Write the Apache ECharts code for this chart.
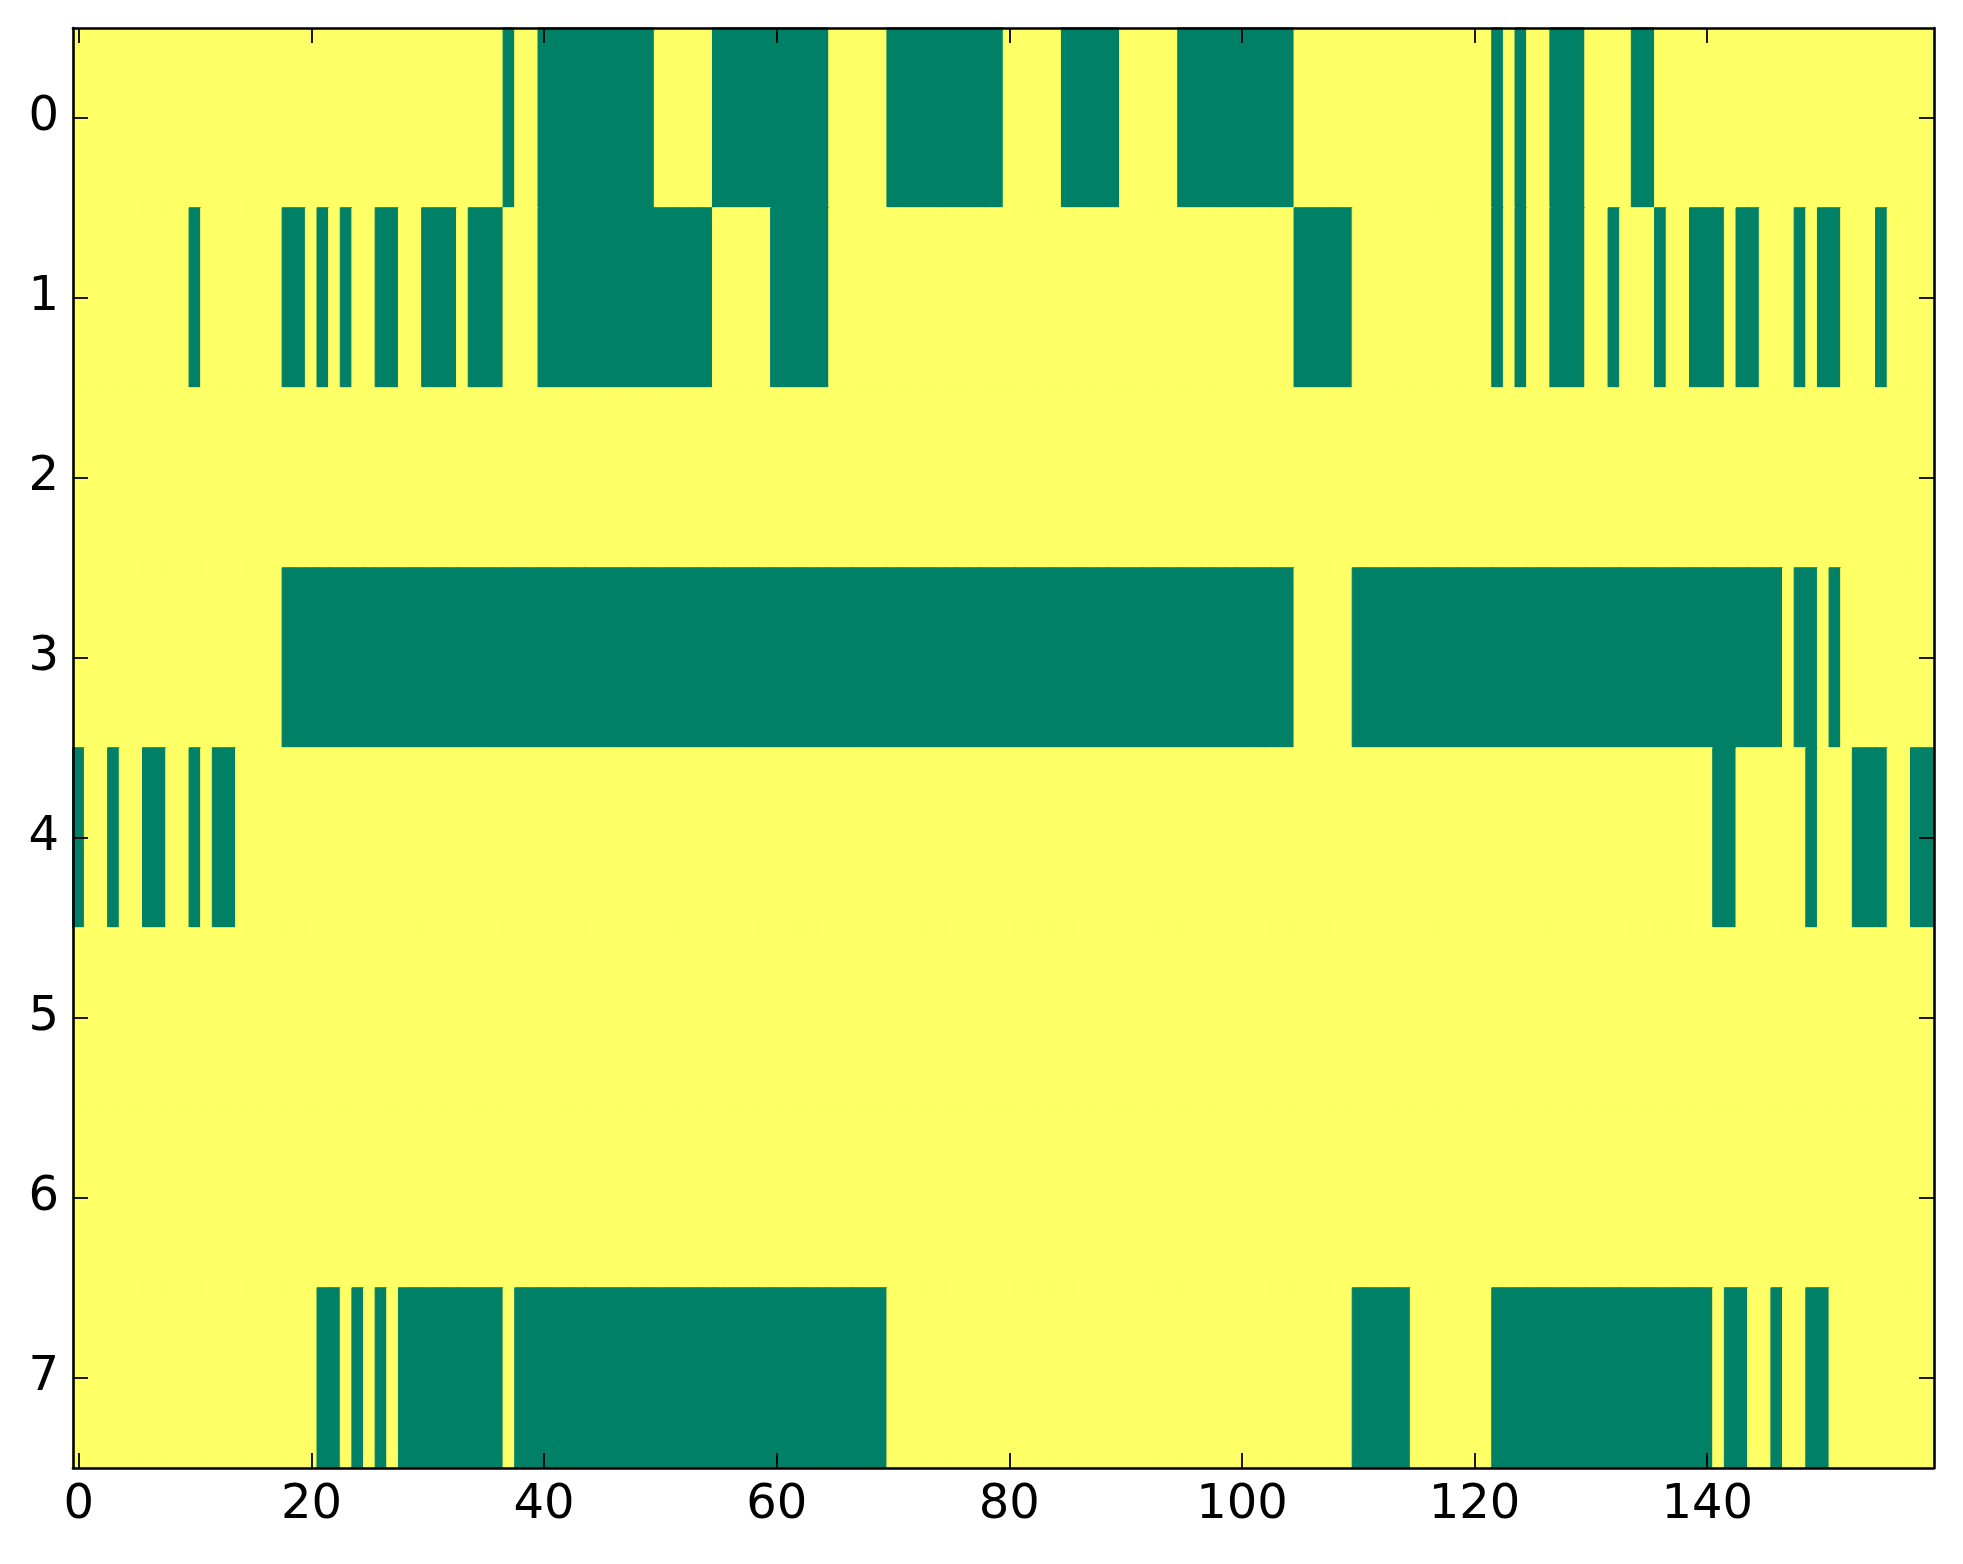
<!DOCTYPE html>
<html><head><meta charset="utf-8">
<script src="https://cdn.jsdelivr.net/npm/echarts@6/dist/echarts.min.js"></script>
<style>html,body{margin:0;padding:0;background:#fff}#c{width:1963px;height:1564px}</style>
</head><body><div id="c"></div>
<script>
// Column categories (0..159) and row categories (0..7)
const columns = Array.from({length: 160}, (_, i) => String(i));
const rowLabels = ['0', '1', '2', '3', '4', '5', '6', '7'];
const xTickLabels = ['0', '20', '40', '60', '80', '100', '120', '140'];

// Cell values, 10 columns per group ('1' = yellow, '0' = green)
const row0 = ['1111111111','1111111111','1111111111','1111111011','0000000000','1111100000','0000011111','0000000000',
              '1111100000','1111100000','0000011111','1111111111','1101011000','1111001111','1111111111','1111111111'];
const row1 = ['1111111111','0111111100','1010110011','0001000111','0000000000','0000011111','0000011111','1111111111',
              '1111111111','1111111111','1111100000','1111111111','1101011000','1101110110','0010011101','0011101111'];
const row2 = ['1111111111','1111111111','1111111111','1111111111','1111111111','1111111111','1111111111','1111111111',
              '1111111111','1111111111','1111111111','1111111111','1111111111','1111111111','1111111111','1111111111'];
const row3 = ['1111111111','1111111100','0000000000','0000000000','0000000000','0000000000','0000000000','0000000000',
              '0000000000','0000000000','0000011111','0000000000','0000000000','0000000000','0000000100','1011111111'];
const row4 = ['0110110011','0100111111','1111111111','1111111111','1111111111','1111111111','1111111111','1111111111',
              '1111111111','1111111111','1111111111','1111111111','1111111111','1111111111','1001111110','1110001100'];
const row5 = ['1111111111','1111111111','1111111111','1111111111','1111111111','1111111111','1111111111','1111111111',
              '1111111111','1111111111','1111111111','1111111111','1111111111','1111111111','1111111111','1111111111'];
const row6 = ['1111111111','1111111111','1111111111','1111111111','1111111111','1111111111','1111111111','1111111111',
              '1111111111','1111111111','1111111111','1111111111','1111111111','1111111111','1111111111','1111111111'];
const row7 = ['1111111111','1111111111','1001010100','0000000100','0000000000','0000000000','0000000000','1111111111',
              '1111111111','1111111111','1111111111','0000011111','1100000000','0000000000','0100110110','0111111111'];

const rows = [row0, row1, row2, row3, row4, row5, row6, row7];

const GREEN = '#008066';
const YELLOW = '#ffff66';

const heatData = [];
rows.forEach((groups, r) => {
  const s = groups.join('');
  for (let c = 0; c < s.length; c++) {
    const v = Number(s[c]);
    const col = v ? YELLOW : GREEN;
    heatData.push({value: [c, r, v], itemStyle: {color: col, borderColor: col, borderWidth: 1}});
  }
});

const isXTick = (idx) => xTickLabels.indexOf(String(idx)) >= 0;
const FONT = 'DejaVu Sans';
const FS = 48;
const lineStyle = {color: '#000', width: 2.6};
const tickStyle = {color: '#000', width: 1.8};

const chart = echarts.init(document.getElementById('c'));
chart.setOption({
  animation: false,
  backgroundColor: '#fff',
  grid: {left: 73, top: 28, width: 1861, height: 1440, containLabel: false},
  xAxis: [
    {type: 'category', data: columns, position: 'bottom', boundaryGap: true, z: 10,
     axisLine: {show: true, lineStyle},
     axisTick: {show: true, inside: true, length: 15, alignWithLabel: true, interval: (i) => isXTick(i), lineStyle: tickStyle},
     axisLabel: {show: true, interval: (i) => isXTick(i), margin: 14, color: '#000',
                 fontFamily: FONT, fontSize: FS},
     splitLine: {show: false}},
    {type: 'category', data: columns, position: 'top', boundaryGap: true, z: 10,
     axisLine: {show: true, lineStyle},
     axisTick: {show: true, inside: true, length: 15, alignWithLabel: true, interval: (i) => isXTick(i), lineStyle: tickStyle},
     axisLabel: {show: false}, splitLine: {show: false}}
  ],
  yAxis: [
    {type: 'category', data: rowLabels, inverse: true, position: 'left', boundaryGap: true, z: 10,
     axisLine: {show: true, lineStyle},
     axisTick: {show: true, inside: true, length: 15, alignWithLabel: true, interval: 0, lineStyle: tickStyle},
     axisLabel: {show: true, interval: 0, margin: 14, color: '#000', fontFamily: FONT, fontSize: FS,
                 padding: [6, 0, 0, 0]},
     splitLine: {show: false}},
    {type: 'category', data: rowLabels, inverse: true, position: 'right', boundaryGap: true, z: 10,
     axisLine: {show: true, lineStyle},
     axisTick: {show: true, inside: true, length: 15, alignWithLabel: true, interval: 0, lineStyle: tickStyle},
     axisLabel: {show: false}, splitLine: {show: false}}
  ],
  series: [{
    type: 'heatmap', xAxisIndex: 0, yAxisIndex: 0, data: heatData,
    emphasis: {disabled: true}, progressive: 0, z: 1
  }]
});
</script>
</body></html>
